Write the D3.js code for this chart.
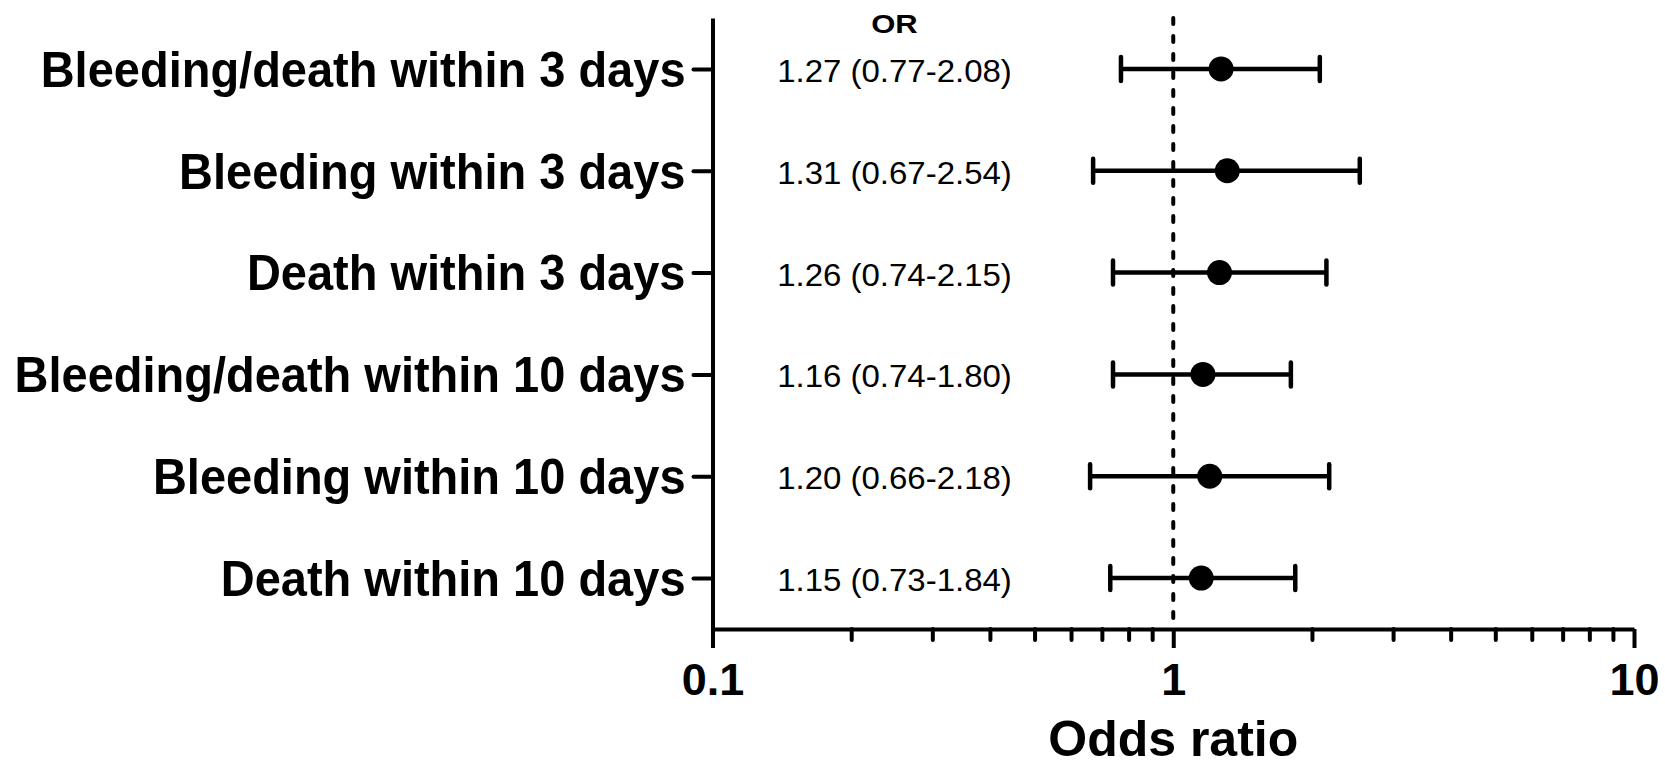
<!DOCTYPE html>
<html>
<head>
<meta charset="utf-8">
<script src="https://cdn.jsdelivr.net/npm/d3@7"></script>
<style>
  html, body { margin: 0; padding: 0; background: #fff; }
  svg { display: block; }
  text { font-family: "Liberation Sans", Arial, Helvetica, sans-serif; fill: #000; }
</style>
</head>
<body>
<svg id="chart" width="1665" height="766"></svg>
<script>
// ---- data ----
const outcomes = [
  "Bleeding/death within 3 days",
  "Bleeding within 3 days",
  "Death within 3 days",
  "Bleeding/death within 10 days",
  "Bleeding within 10 days",
  "Death within 10 days"
];
const oddsRatio = [1.27, 1.31, 1.26, 1.16, 1.20, 1.15];
const ciLow     = [0.77, 0.67, 0.74, 0.74, 0.66, 0.73];
const ciHigh    = [2.08, 2.54, 2.15, 1.80, 2.18, 1.84];
const majorTicks = [0.1, 1, 10];
const minorTicks = [0.2, 0.3, 0.4, 0.5, 0.6, 0.7, 0.8, 0.9, 2, 3, 4, 5, 6, 7, 8, 9];
const refValue = 1;
const columnTitle = "OR";
const xTitle = "Odds ratio";

// ---- layout ----
const svg = d3.select("#chart");
const plotLeft = 712.5, plotRight = 1634, plotTop = 18, plotBottom = 629;

const x = d3.scaleLog().domain([0.1, 10]).range([plotLeft, plotRight]);
const y = d3.scalePoint().domain(outcomes).range([plotTop, plotBottom]).padding(0.5);

const rows = outcomes.map((name, i) => ({
  name, or: oddsRatio[i], lo: ciLow[i], hi: ciHigh[i]
}));

// x axis: minor ticks
const gMinor = svg.append("g").attr("transform", `translate(0,${plotBottom})`)
  .call(d3.axisBottom(x).tickValues(minorTicks).tickSize(11).tickSizeOuter(0).tickFormat(""));
gMinor.select(".domain").remove();
gMinor.selectAll(".tick line").attr("stroke", "#000").attr("stroke-width", 4).attr("stroke-linecap", "round");

// x axis: major ticks + labels
const gx = svg.append("g").attr("transform", `translate(0,${plotBottom})`)
  .call(d3.axisBottom(x).tickValues(majorTicks).tickSize(19).tickSizeOuter(0).tickPadding(15)
    .tickFormat(d => d3.format("~g")(d)));
gx.attr("font-family", null).attr("font-size", null);
gx.select(".domain").attr("stroke", "#000").attr("stroke-width", 4);
gx.selectAll(".tick line").attr("stroke", "#000").attr("stroke-width", 4);
gx.selectAll(".tick text")
  .style("font-size", "45px").style("font-weight", "bold");

// y axis
const gy = svg.append("g").attr("transform", `translate(${plotLeft},0)`)
  .call(d3.axisLeft(y).tickSize(19).tickSizeOuter(0).tickPadding(8));
gy.attr("font-family", null).attr("font-size", null);
gy.select(".domain").attr("stroke", "#000").attr("stroke-width", 4);
gy.selectAll(".tick line").attr("stroke", "#000").attr("stroke-width", 4).attr("stroke-linecap", "round");
gy.selectAll(".tick text")
  .style("font-size", "47px").style("font-weight", "bold")
  .attr("dy", "0.35em")
  .attr("transform", "scale(1,1.05)");

// reference line
svg.append("line")
  .attr("x1", x(refValue)).attr("x2", x(refValue))
  .attr("y1", plotTop).attr("y2", plotBottom)
  .attr("stroke", "#000").attr("stroke-width", 4)
  .attr("stroke-dasharray", "6,12").attr("stroke-linecap", "round");

// error bars
const g = svg.append("g");
g.selectAll("line.ci").data(rows).join("line").attr("class", "ci")
  .attr("x1", d => x(d.lo)).attr("x2", d => x(d.hi))
  .attr("y1", d => y(d.name)).attr("y2", d => y(d.name))
  .attr("stroke", "#000").attr("stroke-width", 4.5);
g.selectAll("line.capL").data(rows).join("line").attr("class", "capL")
  .attr("x1", d => x(d.lo)).attr("x2", d => x(d.lo))
  .attr("y1", d => y(d.name) - 12).attr("y2", d => y(d.name) + 12)
  .attr("stroke", "#000").attr("stroke-width", 4.5).attr("stroke-linecap", "round");
g.selectAll("line.capR").data(rows).join("line").attr("class", "capR")
  .attr("x1", d => x(d.hi)).attr("x2", d => x(d.hi))
  .attr("y1", d => y(d.name) - 12).attr("y2", d => y(d.name) + 12)
  .attr("stroke", "#000").attr("stroke-width", 4.5).attr("stroke-linecap", "round");
g.selectAll("circle").data(rows).join("circle")
  .attr("cx", d => x(d.or)).attr("cy", d => y(d.name)).attr("r", 12.5)
  .attr("fill", "#000");

// OR column
const colX = 894.5;
svg.append("text")
  .attr("transform", `translate(${colX},33) scale(1,0.85)`)
  .attr("text-anchor", "middle")
  .style("font-size", "31px").style("font-weight", "bold")
  .text(columnTitle);
svg.selectAll("text.stat").data(rows).join("text").attr("class", "stat")
  .attr("transform", d => `translate(${colX},${y(d.name) + 13}) scale(1,0.96)`)
  .attr("text-anchor", "middle")
  .style("font-size", "33px")
  .text(d => `${d.or.toFixed(2)} (${d.lo.toFixed(2)}-${d.hi.toFixed(2)})`);

// x title
svg.append("text").attr("x", x(refValue)).attr("y", 756)
  .attr("text-anchor", "middle")
  .style("font-size", "50px").style("font-weight", "bold")
  .text(xTitle);
</script>
</body>
</html>
